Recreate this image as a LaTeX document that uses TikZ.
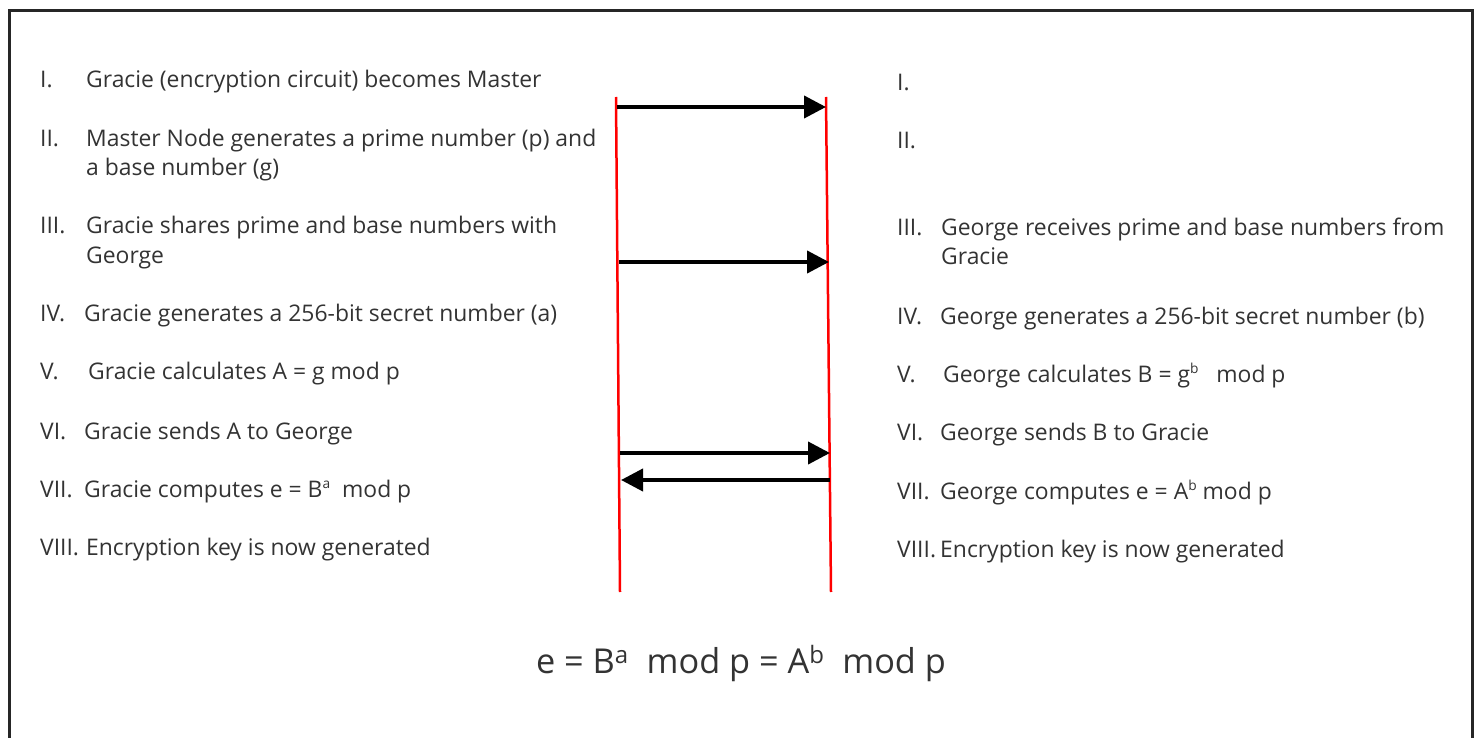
\documentclass[tikz,border=0pt]{standalone}
\usepackage{fontspec}
\setmainfont{Open Sans}
\usetikzlibrary{arrows.meta}
\definecolor{txt}{HTML}{333333}
\newcommand{\smsup}[1]{\raisebox{0.38em}{\scalebox{0.6}{#1}}}
\begin{document}
\begin{tikzpicture}[x=1pt,y=-1pt,
  item/.style={anchor=base west, inner sep=0pt, font=\fontsize{22.9}{27}\selectfont, text=txt},
  formula/.style={anchor=base, inner sep=0pt, font=\fontsize{34.3}{40}\selectfont, text=txt},
  lifeline/.style={draw=red, line width=2.5pt},
  msg/.style={draw=black, line width=4pt, -{Triangle[length=22pt,width=22pt]}},
  frame/.style={draw=black!85, line width=3pt}]
\useasboundingbox (0,0) rectangle (1478,738);
\draw[frame] (9.5,750) |- (1472,11) -- (1472,750);

% lifelines
\coordinate (gTop) at (616,97);
\coordinate (gBot) at (620,592);
\coordinate (rTop) at (826,97);
\coordinate (rBot) at (831,592);
\draw[lifeline] (gTop) -- (gBot);
\draw[lifeline] (rTop) -- (rBot);

% message end points
\coordinate (m1s) at (617,107);
\coordinate (m1e) at (826,107);
\coordinate (m2s) at (619,262);
\coordinate (m2e) at (829,262);
\coordinate (m3s) at (620,453);
\coordinate (m3e) at (830,453);
\coordinate (m4s) at (830,480);
\coordinate (m4e) at (621,480);
\draw[msg] (m1s) -- (m1e);
\draw[msg] (m2s) -- (m2e);
\draw[msg] (m3s) -- (m3e);
\draw[msg] (m4s) -- (m4e);

% left column
\node[item] (l1n) at (40,88) {I.};
\node[item] (l1) at (86,88) {Gracie (encryption circuit) becomes Master};
\node[item] (l2n) at (40,147) {II.};
\node[item] (l2) at (86,147) {Master Node generates a prime number (p) and};
\node[item] (l2b) at (86,176) {a base number (g)};
\node[item] (l3n) at (40,234) {III.};
\node[item] (l3) at (86,234) {Gracie shares prime and base numbers with};
\node[item] (l3b) at (86,263) {George};
\node[item] (l4n) at (40,321) {IV.};
\node[item] (l4) at (84,321) {Gracie generates a 256-bit secret number (a)};
\node[item] (l5n) at (40,379) {V.};
\node[item] (l5) at (88,379) {Gracie calculates A = g mod p};
\node[item] (l6n) at (40,439) {VI.};
\node[item] (l6) at (84,439) {Gracie sends A to George};
\node[item] (l7n) at (40,497) {VII.};
\node[item] (l7) at (84,497) {Gracie computes e = B\smsup{a}\ \ mod p};
\node[item] (l8n) at (40,555) {VIII.};
\node[item] (l8) at (86,555) {Encryption key is now generated};

% right column
\node[item] (r1n) at (897,91) {I.};
\node[item] (r2n) at (897,149) {II.};
\node[item] (r3n) at (897,236) {III.};
\node[item] (r3) at (941,236) {George receives prime and base numbers from};
\node[item] (r3b) at (941,265) {Gracie};
\node[item] (r4n) at (897,324) {IV.};
\node[item] (r4) at (940,324) {George generates a 256-bit secret number (b)};
\node[item] (r5n) at (897,382) {V.};
\node[item] (r5) at (943,382) {George calculates B = g\smsup{b}\ \ \ mod p};
\node[item] (r6n) at (897,440) {VI.};
\node[item] (r6) at (940,440) {George sends B to Gracie};
\node[item] (r7n) at (897,499) {VII.};
\node[item] (r7) at (940,499) {George computes e = A\smsup{b} mod p};
\node[item] (r8n) at (897,557) {VIII.};
\node[item] (r8) at (940,557) {Encryption key is now generated};

% formula
\node[formula] (eq) at (741,673) {e = B\textsuperscript{a}\ \ mod p = A\textsuperscript{b}\ \ mod p};
\end{tikzpicture}
\end{document}
